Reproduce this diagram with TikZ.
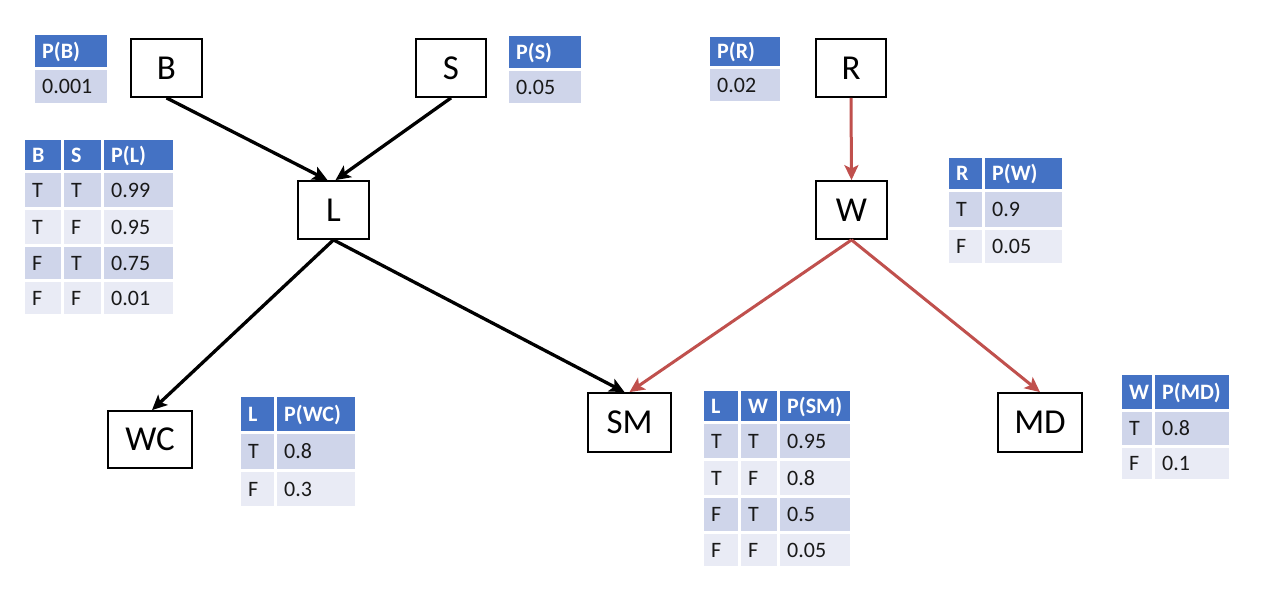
\documentclass[tikz,border=0pt]{standalone}
\usepackage{fontspec}
\setmainfont{Carlito}
\usetikzlibrary{arrows.meta}
\definecolor{hdrblue}{HTML}{4472C4}
\definecolor{rowdark}{HTML}{CFD5EA}
\definecolor{rowlight}{HTML}{E9EBF5}
\definecolor{edgered}{HTML}{C0504D}
\newcommand\tcell[7]{%
  \fill[#6] ({#2+1.5},{#3+1.5}) rectangle ({#4-1.5},{#5-1.5});
  \node[celltext,#6text] (#1) at ({#2+9},{(#3+#5)/2+7.5}) {#7};}
\tikzset{
  hcell/.style={fill=hdrblue},
  acell/.style={fill=rowdark},
  bcell/.style={fill=rowlight},
  celltext/.style={anchor=base west, inner sep=0pt, font=\fontsize{22}{26}\selectfont, text=black!90},
  hcelltext/.style={text=white, font=\fontsize{22}{26}\selectfont\bfseries},
  acelltext/.style={},
  bcelltext/.style={},
  var/.style={draw=black, line width=1.8pt, fill=white, inner sep=0pt,
    font=\fontsize{35}{40}\selectfont},
  blackedge/.style={draw=black, line width=3.3pt, -{Stealth[length=15pt,width=14pt,inset=3.5pt]}},
  rededge/.style={draw=edgered, line width=3pt, -{Stealth[length=15pt,width=14pt,inset=3.5pt]}}
}
\begin{document}
\begin{tikzpicture}[x=1pt,y=-1pt]
\useasboundingbox (0,0) rectangle (1271,595);
\fill[white] (0,0) rectangle (1271,595);

% variable nodes
\node[var, minimum width=71pt, minimum height=58pt] (B) at (166.5,68) {B};
\node[var, minimum width=70pt, minimum height=58pt] (S) at (451,68) {S};
\node[var, minimum width=70pt, minimum height=58pt] (R) at (851,68) {R};
\node[var, minimum width=71pt, minimum height=58pt] (L) at (333.5,210) {L};
\node[var, minimum width=71pt, minimum height=58pt] (W) at (851.5,210) {W};
\node[var, minimum width=84pt, minimum height=57pt] (WC) at (150,439.5) {WC};
\node[var, minimum width=83pt, minimum height=59pt] (SM) at (629.5,422.5) {SM};
\node[var, minimum width=84pt, minimum height=59pt] (MD) at (1040,422.5) {MD};

% edges
\draw[blackedge] (B.south) -- ([xshift=-6pt]L.north);
\draw[blackedge] (S.south) -- ([xshift=2pt]L.north);
\draw[rededge] (R.south) -- (W.north);
\draw[blackedge] (L.south) -- ([xshift=2pt]WC.north);
\draw[blackedge] (L.south) -- ([xshift=-5pt]SM.north);
\draw[rededge] (W.south) -- (SM.north);
\draw[rededge] (W.south) -- (MD.north);

% P(B)
\tcell{pbh}{33}{33}{108}{68}{hcell}{P(B)}
\tcell{pbv}{33}{68}{108}{104}{acell}{0.001}
% P(S)
\tcell{psh}{507}{34}{582}{69}{hcell}{P(S)}
\tcell{psv}{507}{69}{582}{104}{acell}{0.05}
% P(R)
\tcell{prh}{708}{35}{781}{67}{hcell}{P(R)}
\tcell{prv}{708}{67}{781}{102}{acell}{0.02}

% P(L)
\tcell{lh1}{23}{138}{62}{171}{hcell}{B}
\tcell{lh2}{62}{138}{102}{171}{hcell}{S}
\tcell{lh3}{102}{138}{174}{171}{hcell}{P(L)}
\tcell{l11}{23}{171}{62}{208}{acell}{T}
\tcell{l12}{62}{171}{102}{208}{acell}{T}
\tcell{l13}{102}{171}{174}{208}{acell}{0.99}
\tcell{l21}{23}{208}{62}{245}{bcell}{T}
\tcell{l22}{62}{208}{102}{245}{bcell}{F}
\tcell{l23}{102}{208}{174}{245}{bcell}{0.95}
\tcell{l31}{23}{245}{62}{280}{acell}{F}
\tcell{l32}{62}{245}{102}{280}{acell}{T}
\tcell{l33}{102}{245}{174}{280}{acell}{0.75}
\tcell{l41}{23}{280}{62}{315}{bcell}{F}
\tcell{l42}{62}{280}{102}{315}{bcell}{F}
\tcell{l43}{102}{280}{174}{315}{bcell}{0.01}

% P(WC)
\tcell{wch1}{239}{395}{275}{432}{hcell}{L}
\tcell{wch2}{275}{395}{356}{432}{hcell}{P(WC)}
\tcell{wc11}{239}{432}{275}{470}{acell}{T}
\tcell{wc12}{275}{432}{356}{470}{acell}{0.8}
\tcell{wc21}{239}{470}{275}{507}{bcell}{F}
\tcell{wc22}{275}{470}{356}{507}{bcell}{0.3}

% P(SM)
\tcell{smh1}{702}{389}{739}{422}{hcell}{L}
\tcell{smh2}{739}{389}{778}{422}{hcell}{W}
\tcell{smh3}{778}{389}{851}{422}{hcell}{P(SM)}
\tcell{sm11}{702}{422}{739}{459}{acell}{T}
\tcell{sm12}{739}{422}{778}{459}{acell}{T}
\tcell{sm13}{778}{422}{851}{459}{acell}{0.95}
\tcell{sm21}{702}{459}{739}{496}{bcell}{T}
\tcell{sm22}{739}{459}{778}{496}{bcell}{F}
\tcell{sm23}{778}{459}{851}{496}{bcell}{0.8}
\tcell{sm31}{702}{496}{739}{532}{acell}{F}
\tcell{sm32}{739}{496}{778}{532}{acell}{T}
\tcell{sm33}{778}{496}{851}{532}{acell}{0.5}
\tcell{sm41}{702}{532}{739}{567}{bcell}{F}
\tcell{sm42}{739}{532}{778}{567}{bcell}{F}
\tcell{sm43}{778}{532}{851}{567}{bcell}{0.05}

% P(W)
\tcell{wh1}{947}{156}{983}{190}{hcell}{R}
\tcell{wh2}{983}{156}{1063}{190}{hcell}{P(W)}
\tcell{w11}{947}{190}{983}{228}{acell}{T}
\tcell{w12}{983}{190}{1063}{228}{acell}{0.9}
\tcell{w21}{947}{228}{983}{264}{bcell}{F}
\tcell{w22}{983}{228}{1063}{264}{bcell}{0.05}

% P(MD)
\tcell{mdh1}{1120}{373}{1153}{410}{hcell}{W}
\tcell{mdh2}{1153}{373}{1230}{410}{hcell}{P(MD)}
\tcell{md11}{1120}{410}{1153}{446}{acell}{T}
\tcell{md12}{1153}{410}{1230}{446}{acell}{0.8}
\tcell{md21}{1120}{446}{1153}{480}{bcell}{F}
\tcell{md22}{1153}{446}{1230}{480}{bcell}{0.1}
\end{tikzpicture}
\end{document}
